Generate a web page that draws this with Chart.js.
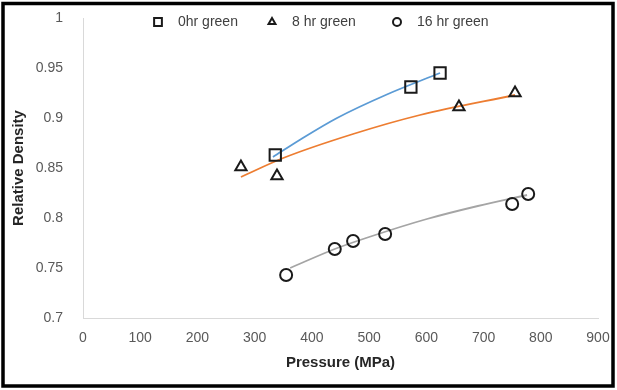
<!DOCTYPE html>
<html lang="en">
<head>
<meta charset="UTF-8">
<title>Relative Density vs Pressure</title>
<script src="https://cdn.jsdelivr.net/npm/chart.js"></script>
<style>
  html, body { margin: 0; padding: 0; background: #fff; }
  #wrap { position: relative; width: 617px; height: 390px; }
</style>
</head>
<body>
<div id="wrap">
  <canvas id="chart1" width="617" height="390"></canvas>
</div>
<script>
// measured points
var pressure0 = [336, 573, 624];
var density0 = [0.863, 0.931, 0.945];
var pressure8 = [276, 339, 657, 755];
var density8 = [0.851, 0.842, 0.911, 0.925];
var pressure16 = [355, 440, 472, 528, 750, 778];
var density16 = [0.743, 0.769, 0.777, 0.784, 0.814, 0.824];

// trendlines
var trend0X = [332, 380, 444, 531, 624];
var trend0Y = [0.861, 0.8785, 0.900, 0.9235, 0.945];
var trend8X = [276, 350, 472, 589, 755];
var trend8Y = [0.841, 0.860, 0.884, 0.903, 0.923];
var trend16X = [362, 440, 500, 601, 690, 776];
var trend16Y = [0.750, 0.769, 0.781, 0.799, 0.812, 0.823];

var seriesNames = ['0hr green', '8 hr green', '16 hr green'];
var xTicks = [0, 100, 200, 300, 400, 500, 600, 700, 800, 900];
var yTicks = [0.7, 0.75, 0.8, 0.85, 0.9, 0.95, 1];

function pts(xs, ys) {
    return xs.map(function (x, i) { return { x: x, y: ys[i] }; });
}

function markerSet(label, xs, ys, style, radius) {
    return {
        label: label,
        data: pts(xs, ys),
        showLine: false,
        pointStyle: style,
        pointRadius: radius,
        pointHoverRadius: radius,
        pointBorderWidth: 2,
        pointBorderColor: '#1a1a1a',
        pointBackgroundColor: 'rgba(0,0,0,0)',
        isMarker: true
    };
}

function trendSet(xs, ys, color) {
    return {
        label: 'trend',
        data: pts(xs, ys),
        showLine: true,
        borderColor: color,
        borderWidth: 1.8,
        cubicInterpolationMode: 'monotone',
        pointRadius: 0,
        fill: false
    };
}

var fontFam = '"Liberation Sans", Arial, sans-serif';

// white background + black frame
var framePlugin = {
    id: 'frame',
    beforeDraw: function (chart) {
        var c = chart.ctx;
        c.save();
        c.fillStyle = '#fff';
        c.fillRect(0, 0, chart.width, chart.height);
        c.restore();
    },
    afterDraw: function (chart) {
        var c = chart.ctx;
        c.save();
        c.strokeStyle = '#000';
        c.lineWidth = 3.5;
        c.strokeRect(3, 3.5, chart.width - 7, chart.height - 7.5);
        c.restore();
    }
};

// Excel-like legend drawn over the plot area
var legendX = [158, 272, 397];
var legendPlugin = {
    id: 'overlayLegend',
    afterDraw: function (chart) {
        var c = chart.ctx;
        var y = 22;
        var n = 0;
        c.save();
        chart.data.datasets.forEach(function (ds) {
            if (!ds.isMarker) return;
            var x = legendX[n++];
            c.fillStyle = 'rgba(0,0,0,0)';
            c.strokeStyle = '#1a1a1a';
            c.lineWidth = 2;
            Chart.helpers.drawPoint(c, {
                pointStyle: ds.pointStyle,
                radius: ds.pointStyle === 'rect' ? 5.5 : 4,
                borderWidth: 2
            }, x, y);
            c.fillStyle = '#404040';
            c.font = '14px ' + fontFam;
            c.textBaseline = 'middle';
            c.textAlign = 'left';
            c.fillText(ds.label, x + 20, y);
        });
        c.restore();
    }
};

var ctx = document.getElementById('chart1').getContext('2d');
var myChart = new Chart(ctx, {
    type: 'scatter',
    data: {
        datasets: [
            markerSet(seriesNames[0], pressure0, density0, 'rect', 8),
            markerSet(seriesNames[1], pressure8, density8, 'triangle', 6.5),
            markerSet(seriesNames[2], pressure16, density16, 'circle', 6),
            trendSet(trend0X, trend0Y, '#5b9bd5'),
            trendSet(trend8X, trend8Y, '#ed7d31'),
            trendSet(trend16X, trend16Y, '#a5a5a5')
        ]
    },
    options: {
        responsive: false,
        animation: false,
        layout: { padding: { top: 18, right: 19, bottom: 0, left: 5 } },
        plugins: {
            legend: { display: false },
            tooltip: { enabled: false }
        },
        scales: {
            x: {
                type: 'linear',
                min: xTicks[0],
                max: xTicks[xTicks.length - 1],
                afterBuildTicks: function (s) { s.ticks = xTicks.map(function (v) { return { value: v }; }); },
                afterFit: function (s) { s.height = 72; s.paddingLeft = 0; s.paddingRight = 0; },
                grid: { display: false, drawTicks: false },
                border: { display: true, color: '#d9d9d9', width: 1 },
                ticks: { color: '#595959', font: { family: fontFam, size: 14 }, padding: 12, maxRotation: 0 },
                title: {
                    display: true,
                    text: 'Pressure (MPa)',
                    color: '#262626',
                    font: { family: fontFam, size: 15, weight: 'bold' },
                    padding: { top: 4, bottom: 18 }
                }
            },
            y: {
                type: 'linear',
                min: yTicks[0],
                max: yTicks[yTicks.length - 1],
                afterBuildTicks: function (s) { s.ticks = yTicks.map(function (v) { return { value: v }; }); },
                afterFit: function (s) { s.width = 78; s.paddingTop = 0; s.paddingBottom = 0; },
                grid: { display: false, drawTicks: false },
                border: { display: true, color: '#d9d9d9', width: 1 },
                ticks: {
                    color: '#595959',
                    font: { family: fontFam, size: 14 },
                    padding: 20,
                    callback: function (v) { return String(Math.round(v * 100) / 100); }
                },
                title: {
                    display: true,
                    text: 'Relative Density',
                    color: '#262626',
                    font: { family: fontFam, size: 15, weight: 'bold' },
                    padding: { top: 5, bottom: 0 }
                }
            }
        }
    },
    plugins: [framePlugin, legendPlugin]
});
</script>
</body>
</html>
